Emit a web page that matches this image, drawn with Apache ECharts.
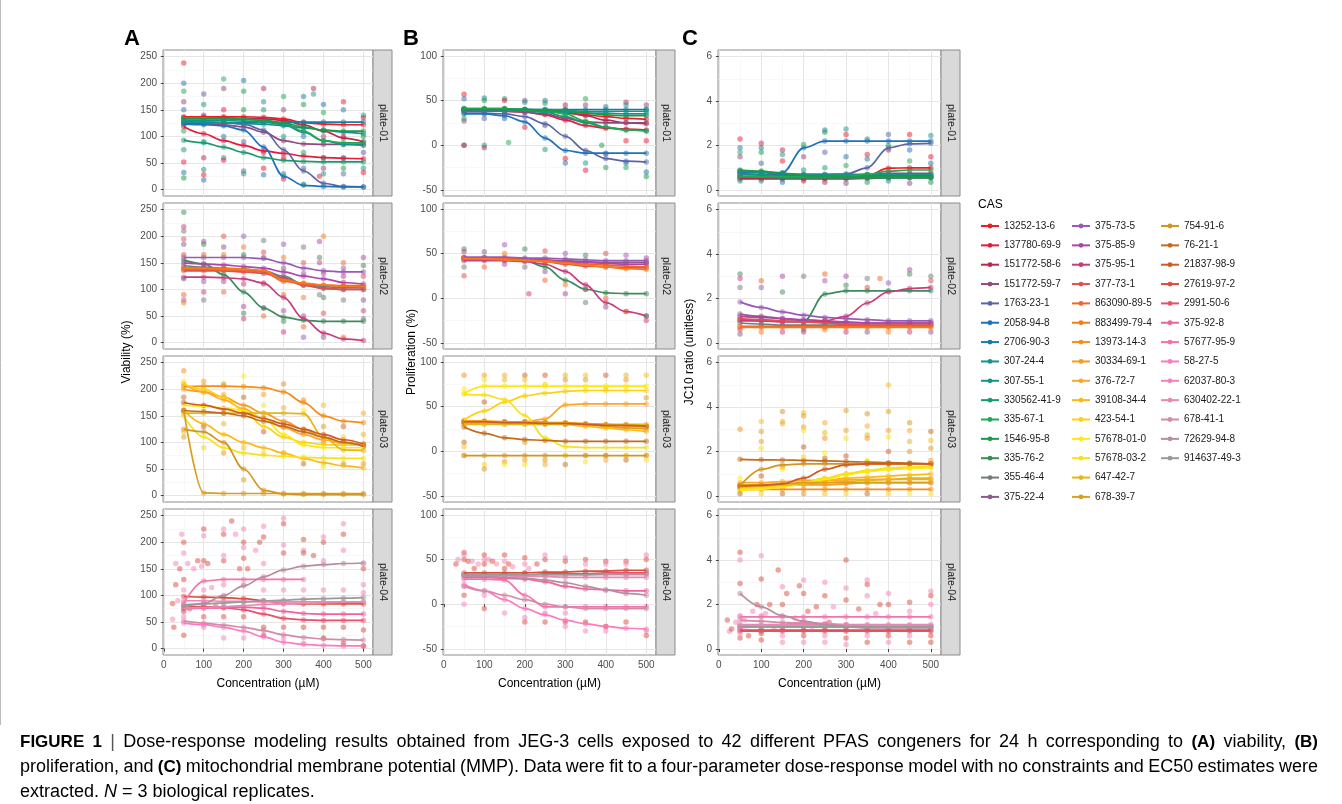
<!DOCTYPE html>
<html>
<head>
<meta charset="utf-8">
<script src="https://cdn.jsdelivr.net/npm/echarts@6/dist/echarts.min.js"></script>
<style>
html, body { margin: 0; padding: 0; background: #fff; }
#main { width: 1342px; height: 804px; }
</style>
</head>
<body>
<div id="main"></div>
<script>
var myChart = echarts.init(document.getElementById('main'));

// concentrations (µM) of the fitted curves
var conc = [50, 100, 150, 200, 250, 300, 350, 400, 450, 500];

// tick labels
var xTicks = [0, 100, 200, 300, 400, 500];
var viabTicks = [0, 50, 100, 150, 200, 250];
var profTicks = [-50, 0, 50, 100];
var jcTicks = [0, 2, 4, 6];

var plateLabels = ['plate-01', 'plate-02', 'plate-03', 'plate-04'];

// compounds on each plate
var plate01 = ['13252-13-6', '137780-69-9', '151772-58-6', '151772-59-7', '1763-23-1', '2058-94-8',
    '2706-90-3', '307-24-4', '307-55-1', '330562-41-9', '335-67-1', '1546-95-8'];
var plate02 = ['335-76-2', '355-46-4', '375-22-4', '375-73-5', '375-85-9', '375-95-1', '377-73-1',
    '863090-89-5', '883499-79-4'];
var plate03 = ['13973-14-3', '30334-69-1', '376-72-7', '39108-34-4', '423-54-1', '57678-01-0',
    '57678-03-2', '647-42-7', '678-39-7', '754-91-6', '76-21-1', '21837-98-9'];
var plate04 = ['27619-97-2', '2991-50-6', '375-92-8', '57677-95-9', '58-27-5', '62037-80-3',
    '630402-22-1', '678-41-1', '72629-94-8', '914637-49-3'];

// legend order and colours
var casNames = ['13252-13-6', '137780-69-9', '151772-58-6', '151772-59-7', '1763-23-1', '2058-94-8',
    '2706-90-3', '307-24-4', '307-55-1', '330562-41-9', '335-67-1', '1546-95-8', '335-76-2', '355-46-4',
    '375-22-4', '375-73-5', '375-85-9', '375-95-1', '377-73-1', '863090-89-5', '883499-79-4',
    '13973-14-3', '30334-69-1', '376-72-7', '39108-34-4', '423-54-1', '57678-01-0', '57678-03-2',
    '647-42-7', '678-39-7', '754-91-6', '76-21-1', '21837-98-9', '27619-97-2', '2991-50-6',
    '375-92-8', '57677-95-9', '58-27-5', '62037-80-3', '630402-22-1', '678-41-1', '72629-94-8',
    '914637-49-3'];
var casColors = ['#ee1c25', '#e8193c', '#b52a4f', '#8e4a7e', '#5a64a8', '#1f72b8',
    '#1b7aa3', '#17918f', '#169585', '#1a9a6c', '#21a853', '#1a9a46', '#3c8b5a', '#737b7b',
    '#8c5a8c', '#9b59b6', '#b044a8', '#c93c7c', '#e0504e', '#f2642c', '#f57b17',
    '#f98c16', '#fb9a1c', '#fda62a', '#fdb913', '#fcd20c', '#fde910', '#f6e11a',
    '#e5b51a', '#d9a020', '#d4951f', '#c46a1b', '#cf5a23', '#d94e3e', '#e85068',
    '#f0629a', '#f573ad', '#fb7ac0', '#f482ba', '#e588b2', '#d48aa8', '#b88c9e',
    '#9a9a9a'];

// fitted curves: viability (%)
var viabP1 = [
    [137, 137, 137, 137, 136, 133, 126, 123, 122, 122],
    [118, 105, 92, 83, 73, 68, 63, 60, 59, 58],
    [135, 135, 135, 134, 133, 130, 122, 110, 97, 90],
    [125, 124, 122, 118, 108, 92, 86, 85, 85, 85],
    [128, 127, 126, 123, 112, 75, 35, 12, 6, 5],
    [123, 122, 120, 112, 80, 25, 8, 6, 5, 5],
    [125, 126, 126, 126, 127, 127, 127, 127, 127, 127],
    [128, 127, 126, 124, 123, 120, 116, 112, 108, 105],
    [130, 130, 130, 129, 127, 122, 108, 92, 85, 83],
    [93, 88, 80, 70, 60, 55, 53, 52, 52, 52],
    [135, 135, 134, 133, 130, 125, 110, 92, 88, 88],
    [133, 133, 133, 132, 130, 125, 118, 112, 110, 110]
];
var viabP2 = [
    [155, 148, 128, 95, 65, 48, 42, 40, 40, 40],
    [145, 142, 140, 138, 135, 125, 110, 105, 104, 104],
    [140, 140, 138, 136, 133, 122, 108, 102, 100, 100],
    [160, 160, 160, 160, 158, 150, 140, 135, 133, 133],
    [150, 148, 146, 143, 140, 133, 125, 120, 113, 110],
    [123, 123, 122, 120, 112, 85, 45, 18, 7, 4],
    [135, 135, 135, 133, 130, 120, 108, 102, 100, 100],
    [138, 138, 137, 136, 134, 115, 110, 108, 107, 107],
    [140, 140, 139, 138, 136, 118, 112, 108, 106, 105]
];
var viabP3 = [
    [205, 206, 206, 205, 203, 195, 175, 150, 140, 137],
    [200, 195, 185, 170, 155, 140, 125, 110, 100, 95],
    [210, 195, 180, 163, 145, 128, 115, 105, 98, 95],
    [160, 135, 115, 100, 90, 80, 70, 62, 56, 52],
    [210, 200, 185, 160, 130, 110, 100, 96, 95, 95],
    [170, 168, 165, 160, 145, 115, 95, 90, 90, 90],
    [150, 110, 90, 80, 76, 74, 72, 71, 70, 70],
    [155, 155, 155, 155, 155, 155, 154, 110, 86, 85],
    [160, 5, 4, 4, 4, 4, 4, 4, 4, 4],
    [125, 120, 100, 50, 10, 3, 2, 2, 2, 2],
    [160, 158, 155, 150, 140, 130, 120, 110, 100, 93],
    [175, 170, 163, 155, 145, 135, 125, 115, 105, 97]
];
var viabP4 = [
    [98, 97, 96, 94, 90, 85, 84, 84, 84, 84],
    [80, 79, 77, 73, 65, 57, 54, 53, 53, 53],
    [75, 76, 77, 78, 76, 70, 66, 65, 65, 65],
    [86, 127, 130, 130, 130, 130, 130, null, null, null],
    [48, 45, 40, 33, 22, 12, 8, 6, 5, 5],
    [90, 90, 89, 89, 88, 88, 88, 88, 88, 88],
    [75, 77, 79, 81, 83, 84, 85, 86, 87, 87],
    [52, 48, 44, 40, 34, 26, 21, 18, 17, 16],
    [78, 85, 100, 118, 135, 148, 155, 158, 160, 161],
    [82, 84, 86, 88, 90, 91, 93, 94, 95, 96]
];

// fitted curves: proliferation (%)
var profP1 = [
    [40, 40, 40, 39, 38, 36, 34, 32, 30, 29],
    [39, 39, 38, 37, 34, 28, 22, 19, 18, 17],
    [40, 40, 40, 40, 39, 37, 33, 28, 25, 24],
    [38, 38, 38, 37, 35, 30, 26, 25, 25, 25],
    [36, 36, 35, 32, 24, 10, -6, -15, -18, -19],
    [35, 35, 33, 26, 8, -6, -9, -9, -9, -9],
    [40, 40, 40, 40, 40, 40, 40, 40, 40, 40],
    [38, 38, 38, 38, 37, 37, 36, 36, 35, 35],
    [41, 41, 41, 40, 40, 39, 38, 38, 38, 38],
    [40, 40, 40, 39, 37, 32, 25, 20, 17, 16],
    [41, 41, 41, 40, 39, 35, 27, 20, 17, 16],
    [40, 40, 40, 40, 39, 38, 36, 34, 33, 33]
];
var profP2 = [
    [45, 45, 44, 42, 35, 20, 10, 6, 5, 5],
    [44, 44, 44, 43, 42, 41, 40, 40, 40, 40],
    [45, 45, 44, 44, 43, 42, 41, 40, 40, 40],
    [46, 46, 46, 45, 45, 44, 43, 42, 42, 42],
    [44, 44, 43, 43, 42, 41, 40, 39, 38, 38],
    [42, 42, 42, 41, 38, 30, 15, -5, -15, -20],
    [45, 45, 44, 43, 41, 38, 36, 35, 34, 34],
    [45, 44, 44, 43, 42, 40, 38, 37, 36, 35],
    [44, 44, 43, 42, 41, 39, 37, 35, 33, 32]
];
var profP3 = [
    [33, 33, 33, 33, 32, 32, 31, 30, 29, 28],
    [34, 34, 33, 33, 32, 31, 30, 29, 28, 27],
    [33, 33, 33, 33, 36, 52, 53, 53, 53, 53],
    [31, 31, 31, 31, 31, 30, 28, 26, 24, 22],
    [35, 45, 55, 62, 65, 67, 68, 68, 68, 68],
    [65, 73, 73, 73, 73, 73, 73, 73, 73, 73],
    [64, 63, 58, 40, 15, 5, 4, 4, 4, 4],
    [30, 30, 30, 30, 30, 30, 30, 30, 30, 30],
    [32, 32, 32, 32, 32, 31, 30, 28, 26, 25],
    [-5, -5, -5, -5, -5, -5, -5, -5, -5, -5],
    [27, 20, 15, 13, 12, 11, 11, 11, 11, 11],
    [33, 33, 32, 32, 31, 31, 30, 29, 29, 28]
];
var profP4 = [
    [35, 35, 35, 35, 36, 36, 37, 37, 38, 38],
    [33, 33, 33, 33, 34, 34, 34, 35, 35, 35],
    [30, 30, 29, 28, 25, 20, 17, 16, 15, 15],
    [28, 28, 27, 10, -3, -3, -3, -3, -3, -3],
    [22, 15, 5, -5, -12, -18, -22, -25, -27, -28],
    [33, 33, 33, 33, 33, 33, 33, 33, 33, 33],
    [32, 32, 32, 31, 31, 30, 30, 30, 30, 30],
    [20, 15, 10, 5, 0, -3, -5, -5, -5, -5],
    [32, 31, 30, 29, 27, 24, 20, 16, 12, 10],
    [33, 33, 33, 33, 33, 33, 33, 34, 34, 34]
];

// fitted curves: JC10 ratio
var jcP1 = [
    [0.55, 0.55, 0.55, 0.55, 0.55, 0.56, 0.65, 0.98, 1.0, 1.0],
    [0.6, 0.6, 0.6, 0.6, 0.6, 0.6, 0.6, 0.6, 0.6, 0.6],
    [0.5, 0.5, 0.5, 0.5, 0.5, 0.5, 0.52, 0.55, 0.55, 0.55],
    [0.7, 0.68, 0.65, 0.65, 0.65, 0.65, 0.7, 0.75, 0.75, 0.75],
    [0.7, 0.7, 0.7, 0.7, 0.7, 0.72, 1.0, 1.9, 2.08, 2.1],
    [0.8, 0.8, 0.78, 1.9, 2.2, 2.2, 2.2, 2.2, 2.2, 2.2],
    [0.85, 0.8, 0.7, 0.65, 0.65, 0.65, 0.65, 0.65, 0.65, 0.65],
    [0.75, 0.7, 0.6, 0.58, 0.58, 0.58, 0.58, 0.58, 0.58, 0.58],
    [0.85, 0.8, 0.75, 0.7, 0.7, 0.7, 0.7, 0.7, 0.7, 0.7],
    [0.6, 0.58, 0.55, 0.55, 0.55, 0.55, 0.55, 0.55, 0.55, 0.55],
    [0.6, 0.6, 0.6, 0.6, 0.6, 0.62, 0.7, 0.85, 0.9, 0.9],
    [0.9, 0.85, 0.75, 0.65, 0.6, 0.6, 0.6, 0.6, 0.6, 0.6]
];
var jcP2 = [
    [1.05, 1.0, 0.98, 0.97, 2.2, 2.35, 2.35, 2.35, 2.35, 2.35],
    [0.9, 0.85, 0.8, 0.8, 0.8, 0.8, 0.8, 0.8, 0.8, 0.8],
    [1.3, 1.2, 1.1, 1.0, 0.95, 0.9, 0.9, 0.9, 0.9, 0.9],
    [1.85, 1.6, 1.4, 1.25, 1.15, 1.1, 1.05, 1.0, 1.0, 1.0],
    [1.2, 1.15, 1.1, 1.05, 1.0, 0.95, 0.9, 0.9, 0.9, 0.9],
    [1.0, 1.0, 0.95, 0.95, 1.0, 1.2, 1.8, 2.3, 2.45, 2.5],
    [1.1, 1.05, 1.0, 0.95, 0.9, 0.85, 0.8, 0.8, 0.8, 0.8],
    [0.75, 0.75, 0.75, 0.75, 0.75, 0.75, 0.75, 0.75, 0.75, 0.75],
    [0.7, 0.7, 0.7, 0.7, 0.7, 0.7, 0.7, 0.7, 0.7, 0.7]
];
var jcP3 = [
    [0.3, 0.3, 0.3, 0.3, 0.3, 0.3, 0.3, 0.3, 0.3, 0.3],
    [0.5, 0.5, 0.5, 0.5, 0.5, 0.55, 0.6, 0.6, 0.6, 0.6],
    [0.6, 0.6, 0.65, 0.7, 0.7, 0.72, 0.75, 0.75, 0.75, 0.75],
    [0.35, 0.4, 0.5, 0.6, 0.7, 0.8, 0.85, 0.9, 0.95, 1.0],
    [0.3, 0.35, 0.45, 0.6, 0.8, 1.0, 1.1, 1.2, 1.25, 1.3],
    [0.25, 0.3, 0.4, 0.55, 0.75, 0.95, 1.1, 1.2, 1.25, 1.28],
    [0.3, 0.35, 0.45, 0.6, 0.8, 1.0, 1.15, 1.25, 1.3, 1.35],
    [0.4, 0.45, 0.5, 0.55, 0.6, 0.65, 0.7, 0.75, 0.8, 0.8],
    [0.5, 0.5, 0.55, 0.6, 0.6, 0.6, 0.6, 0.6, 0.6, 0.6],
    [0.45, 1.2, 1.4, 1.45, 1.45, 1.45, 1.45, 1.45, 1.45, 1.45],
    [1.65, 1.63, 1.62, 1.6, 1.58, 1.55, 1.53, 1.5, 1.48, 1.45],
    [0.45, 0.48, 0.55, 0.8, 1.2, 1.4, 1.45, 1.45, 1.45, 1.45]
];
var jcP4 = [
    [0.85, 0.85, 0.85, 0.85, 0.85, 0.85, 0.85, 0.85, 0.85, 0.85],
    [0.8, 0.8, 0.8, 0.8, 0.8, 0.8, 0.8, 0.8, 0.8, 0.8],
    [1.0, 1.0, 1.0, 1.0, 1.0, 1.0, 1.0, 1.0, 1.0, 1.0],
    [1.45, 1.45, 1.45, 1.45, 1.45, 1.45, 1.45, 1.45, 1.45, 1.45],
    [0.95, 1.0, 1.1, 1.2, 1.15, 1.1, 1.05, 1.0, 1.0, 1.0],
    [1.05, 1.05, 1.05, 1.05, 1.05, 1.05, 1.05, 1.05, 1.05, 1.05],
    [1.1, 1.1, 1.1, 1.1, 1.1, 1.1, 1.1, 1.1, 1.1, 1.1],
    [1.3, 1.25, 1.2, 1.15, 1.1, 1.05, 1.0, 1.0, 1.0, 1.0],
    [2.5, 1.9, 1.5, 1.25, 1.1, 1.0, 0.95, 0.95, 0.95, 0.95],
    [1.0, 1.0, 1.0, 1.0, 1.0, 1.0, 1.0, 1.0, 1.0, 1.0]
];

// scattered replicate observations away from the curves [conc, value]
var obsViab1 = [[50, 238], [50, 200], [50, 185], [50, 165], [50, 75], [50, 52], [50, 32], [50, 22],
    [100, 180], [100, 160], [100, 60], [100, 38], [100, 28], [100, 18], [150, 208], [150, 190], [150, 60],
    [150, 55], [200, 205], [200, 185], [200, 35], [200, 30], [250, 190], [250, 165], [250, 40], [250, 28],
    [300, 175], [300, 150], [300, 30], [300, 20], [350, 175], [350, 160], [350, 40], [350, 10],
    [375, 190], [375, 180], [390, 25], [400, 160], [400, 145], [400, 40], [400, 30], [450, 165],
    [450, 150], [450, 40], [450, 30], [500, 140], [500, 135], [500, 40], [500, 32],
    [50, 150], [50, 110], [100, 140], [100, 90], [150, 150], [150, 100], [200, 150], [200, 90],
    [250, 150], [250, 70], [300, 100], [300, 60], [350, 100], [350, 70], [400, 100], [400, 60],
    [450, 100], [450, 60], [500, 100], [500, 70]];
var obsViab2 = [[50, 245], [50, 218], [50, 210], [50, 195], [50, 185], [50, 90], [50, 80], [50, 75],
    [100, 190], [100, 185], [100, 95], [100, 80], [150, 200], [150, 180], [150, 95], [200, 200],
    [200, 180], [200, 68], [200, 55], [200, 45], [250, 192], [250, 170], [250, 65], [250, 50],
    [300, 185], [300, 160], [300, 60], [300, 40], [300, 20], [350, 180], [350, 150], [350, 50],
    [350, 30], [350, 10], [400, 200], [390, 190], [390, 160], [390, 150], [390, 90], [400, 55],
    [400, 10], [450, 150], [450, 140], [450, 10], [500, 160], [500, 145], [500, 60], [500, 45],
    [50, 165], [50, 120], [100, 165], [100, 115], [150, 165], [150, 115], [200, 165], [200, 110],
    [250, 160], [250, 110], [300, 140], [300, 90], [350, 130], [350, 85], [400, 130], [400, 85],
    [450, 125], [450, 80], [500, 125], [500, 80]];
var obsViab3 = [[50, 235], [50, 215], [50, 185], [50, 120], [50, 110], [100, 215], [100, 200],
    [100, 130], [100, 90], [150, 210], [150, 190], [150, 135], [150, 80], [200, 225], [200, 185],
    [200, 90], [200, 30], [250, 190], [250, 170], [250, 120], [250, 80], [300, 210], [300, 165],
    [300, 80], [350, 180], [350, 160], [350, 60], [400, 170], [400, 130], [400, 100], [400, 55],
    [450, 130], [450, 110], [450, 60], [500, 155], [500, 115], [500, 60]];
var obsViab4 = [[22, 85], [22, 55], [25, 40], [30, 160], [30, 120], [35, 90], [40, 150], [45, 215],
    [50, 200], [50, 180], [50, 130], [50, 60], [50, 25], [60, 160], [65, 75], [75, 150], [85, 165],
    [95, 155], [100, 225], [100, 212], [100, 165], [100, 40], [110, 160], [120, 115], [130, 80],
    [150, 225], [150, 215], [150, 175], [150, 165], [150, 20], [170, 240], [180, 215], [190, 150],
    [200, 225], [200, 200], [200, 190], [200, 170], [200, 20], [210, 150], [230, 185], [240, 200],
    [250, 230], [250, 210], [250, 160], [250, 25], [300, 245], [300, 235], [300, 195], [300, 180],
    [300, 20], [350, 205], [350, 185], [350, 180], [350, 10], [375, 175], [400, 210], [400, 200],
    [400, 165], [400, 20], [450, 235], [450, 215], [450, 185], [450, 10], [500, 160], [500, 150],
    [500, 120], [500, 5], [50, 110], [50, 70], [100, 110], [100, 60], [150, 120], [150, 60],
    [200, 120], [200, 60], [250, 110], [250, 40], [300, 110], [300, 40], [350, 110], [350, 40],
    [400, 110], [400, 40], [450, 110], [450, 40], [500, 105], [500, 35]];

var obsProf1 = [[50, 57], [50, 52], [50, 30], [50, 27], [50, 0], [50, 0], [100, 53], [100, 50],
    [100, 30], [100, 0], [100, -3], [150, 52], [150, 50], [150, 30], [160, 3], [200, 50], [200, 48],
    [200, 20], [250, 50], [250, 47], [250, 22], [250, -5], [300, 45], [300, 40], [300, -15], [300, -20],
    [350, 52], [350, 45], [350, -20], [350, -28], [400, 43], [390, 0], [400, -10], [400, -25],
    [450, 48], [450, 45], [450, 5], [450, -20], [450, -25], [500, 45], [500, 40], [500, 5],
    [500, -30], [500, -35]];
var obsProf2 = [[50, 55], [50, 52], [50, 35], [50, 25], [100, 52], [100, 35], [150, 60], [150, 50],
    [150, 38], [200, 55], [210, 5], [200, 35], [250, 53], [250, 30], [250, 20], [300, 50], [300, 15],
    [300, 5], [350, 48], [350, 10], [350, -5], [400, 50], [400, -10], [400, 0], [450, 48], [450, -15],
    [500, 45], [500, -20], [500, -25]];
var obsProf3 = [[50, 85], [50, 70], [50, 10], [50, 5], [50, -5], [100, 85], [100, 80], [100, 55],
    [100, -15], [100, -20], [150, 85], [150, 80], [150, -12], [150, -15], [200, 85], [200, 80],
    [200, 10], [200, -10], [200, -15], [250, 85], [250, 75], [250, -10], [250, -15], [300, 85],
    [300, 80], [300, -5], [300, -15], [350, 85], [350, 80], [350, -5], [350, -12], [400, 85],
    [400, 70], [400, -5], [400, -10], [450, 85], [450, 80], [450, -5], [450, -10], [500, 85],
    [500, 60], [500, -5], [500, -10]];
var obsProf4 = [[30, 45], [35, 50], [50, 58], [50, 55], [50, 50], [50, 20], [50, 10], [50, 0],
    [60, 48], [70, 48], [75, 40], [85, 45], [100, 55], [100, 50], [100, 45], [100, 10], [100, -5],
    [110, 50], [120, 48], [130, 45], [150, 55], [150, 48], [150, 40], [150, -10], [160, 45],
    [170, 42], [200, 52], [200, 45], [200, 35], [200, -15], [200, -20], [210, 40], [230, 45],
    [250, 55], [250, 50], [250, -10], [250, -20], [300, 52], [300, 48], [300, -10], [300, -20],
    [300, -25], [350, 50], [350, 45], [350, -20], [350, -30], [400, 48], [400, 45], [400, -25],
    [400, -30], [450, 48], [450, 45], [450, -20], [500, 55], [500, 50], [500, -30], [500, -35]];

var obsJc1 = [[50, 2.3], [50, 1.9], [50, 1.7], [50, 1.5], [50, 0.4], [100, 2.1], [100, 1.9],
    [100, 1.7], [100, 1.2], [100, 0.4], [150, 1.8], [150, 1.6], [150, 1.3], [150, 0.35], [200, 2.05],
    [200, 1.5], [200, 0.9], [200, 0.4], [250, 2.7], [250, 2.6], [250, 1.7], [250, 1.0], [250, 0.35],
    [300, 2.75], [300, 2.5], [300, 1.5], [300, 1.1], [300, 0.3], [350, 2.3], [350, 1.6], [350, 1.4],
    [350, 0.35], [400, 2.5], [400, 2.0], [400, 1.8], [400, 0.4], [450, 2.5], [450, 1.8], [450, 1.3],
    [450, 0.3], [500, 2.45], [500, 1.5], [500, 1.2], [500, 0.35]];
var obsJc2 = [[50, 3.1], [50, 2.9], [50, 2.5], [50, 0.6], [50, 0.4], [100, 2.8], [100, 2.5],
    [100, 0.5], [150, 3.0], [150, 2.3], [150, 0.5], [200, 3.0], [200, 0.6], [200, 0.5], [250, 3.1],
    [250, 2.8], [250, 0.6], [300, 3.0], [300, 2.6], [300, 0.5], [350, 2.9], [350, 2.5], [350, 0.5],
    [380, 2.9], [400, 2.7], [400, 0.5], [450, 3.3], [450, 3.1], [450, 0.5], [500, 3.0], [500, 2.8],
    [500, 0.5]];
var obsJc3 = [[50, 3.0], [50, 0.8], [50, 0.1], [100, 3.35], [100, 2.9], [100, 2.45], [100, 2.15],
    [100, 0.9], [100, 0.1], [150, 3.8], [150, 3.35], [150, 3.25], [150, 1.3], [150, 1.2], [150, 0.1],
    [200, 3.75], [200, 3.6], [200, 3.1], [200, 2.95], [200, 2.2], [200, 1.75], [200, 0.1], [250, 3.3],
    [250, 2.85], [250, 2.6], [250, 1.95], [250, 1.7], [250, 0.1], [300, 3.85], [300, 2.95], [300, 2.6],
    [300, 1.8], [300, 0.1], [350, 3.7], [350, 3.15], [350, 2.75], [350, 2.6], [350, 1.6], [350, 0.1],
    [400, 5.0], [400, 3.8], [400, 2.95], [400, 2.65], [400, 2.0], [400, 0.1], [450, 3.3], [450, 2.95],
    [450, 2.45], [450, 2.0], [450, 0.1], [500, 2.9], [500, 2.5], [500, 2.15], [500, 1.6], [500, 0.1]];
var obsJc4 = [[20, 1.3], [25, 0.8], [30, 0.9], [40, 1.2], [50, 4.35], [50, 4.0], [50, 2.95],
    [50, 1.5], [50, 0.5], [60, 1.3], [70, 0.6], [80, 1.7], [90, 2.0], [100, 4.2], [100, 3.15],
    [100, 1.5], [100, 0.4], [110, 1.6], [120, 2.0], [130, 0.9], [140, 3.55], [150, 2.8], [150, 2.0],
    [150, 0.3], [160, 2.5], [180, 1.4], [190, 2.85], [200, 3.1], [200, 2.5], [200, 0.3], [210, 1.7],
    [220, 1.0], [230, 1.9], [250, 3.0], [250, 2.4], [250, 0.3], [260, 1.2], [270, 1.9], [300, 4.0],
    [300, 2.75], [300, 2.2], [300, 0.2], [330, 1.8], [350, 3.1], [350, 2.9], [350, 2.4], [350, 0.3],
    [370, 1.6], [380, 2.0], [400, 2.5], [400, 2.0], [400, 0.3], [450, 2.1], [450, 1.7], [450, 0.3],
    [500, 2.6], [500, 2.4], [500, 2.0], [500, 0.3], [50, 0.7], [100, 0.7], [150, 0.6], [200, 0.6],
    [250, 0.6], [300, 0.5], [350, 0.6], [400, 0.6], [450, 0.6], [500, 0.6]];

// caption, words of each line ('*' bold, '_' italic)
var captionLine1 = ['*FIGURE', '*1', '|', 'Dose-response', 'modeling', 'results', 'obtained', 'from',
    'JEG-3', 'cells', 'exposed', 'to', '42', 'different', 'PFAS', 'congeners', 'for', '24', 'h',
    'corresponding', 'to', '*(A)', 'viability,', '*(B)'];
var captionLine2 = ['proliferation,', 'and', '*(C)', 'mitochondrial', 'membrane', 'potential', '(MMP).',
    'Data', 'were', 'fit', 'to', 'a', 'four-parameter', 'dose-response', 'model', 'with', 'no',
    'constraints', 'and', 'EC50', 'estimates', 'were'];
var captionLine3 = ['extracted.', '_N', '=', '3', 'biological', 'replicates.'];

// layout
var colLeft = [163, 443, 718];
var colWidth = [210, 213, 223];
var rowTop = [50, 203, 356, 509];
var rowH = 146;
var yRanges = [[-12, 262.5], [-57, 106.7], [-0.27, 6.3]];
var ySplit = [5, 3, 3];
var yTickSets = [viabTicks, profTicks, jcTicks];
var yTitles = ['Viability (%)', 'Proliferation (%)', 'JC10 ratio (unitless)'];
var letters = ['A', 'B', 'C'];

var plates = [plate01, plate02, plate03, plate04];
var curves = [
    [viabP1, profP1, jcP1],
    [viabP2, profP2, jcP2],
    [viabP3, profP3, jcP3],
    [viabP4, profP4, jcP4]
];
var obs = [
    [obsViab1, obsProf1, obsJc1],
    [obsViab2, obsProf2, obsJc2],
    [obsViab3, obsProf3, obsJc3],
    [obsViab4, obsProf4, obsJc4]
];

function colorOf(name) {
    return casColors[casNames.indexOf(name)];
}

var grids = [], xAxes = [], yAxes = [], lineSeries = [], dotSeries = [], graphics = [];
var FONT = '"Liberation Sans", Arial, Helvetica, sans-serif';

for (var r = 0; r < 4; r++) {
    for (var c = 0; c < 3; c++) {
        var gi = r * 3 + c;
        grids.push({
            left: colLeft[c], top: rowTop[r], width: colWidth[c], height: rowH,
            show: true, backgroundColor: '#fff', borderColor: '#8c8c8c', borderWidth: 1
        });
        xAxes.push({
            gridIndex: gi, type: 'value', min: -2, max: 524, splitNumber: 5,
            axisLine: { show: false },
            axisTick: { show: r === 3, length: 3, lineStyle: { color: '#444' }, customValues: xTicks },
            axisLabel: { show: r === 3, customValues: xTicks, fontSize: 10, color: '#4d4d4d', margin: 5, fontFamily: FONT },
            splitLine: { show: true, lineStyle: { color: '#e6e6e6', width: 1 } },
            minorTick: { show: false, splitNumber: 2 },
            minorSplitLine: { show: true, lineStyle: { color: '#f3f3f3', width: 0.6 } },
            name: r === 3 ? 'Concentration (\u00b5M)' : '',
            nameLocation: 'middle', nameGap: 23,
            nameTextStyle: { fontSize: 12, color: '#000', fontFamily: FONT }
        });
        yAxes.push({
            gridIndex: gi, type: 'value', min: yRanges[c][0], max: yRanges[c][1], splitNumber: ySplit[c],
            axisLine: { show: false },
            axisTick: { show: true, length: 3, lineStyle: { color: '#444' }, customValues: yTickSets[c] },
            axisLabel: { customValues: yTickSets[c], fontSize: 10, color: '#4d4d4d', margin: 6, fontFamily: FONT },
            splitLine: { show: true, lineStyle: { color: '#e6e6e6', width: 1 } },
            minorTick: { show: false, splitNumber: 2 },
            minorSplitLine: { show: true, lineStyle: { color: '#f3f3f3', width: 0.6 } }
        });

        var names = plates[r];
        var sets = curves[r][c];
        for (var k = 0; k < names.length; k++) {
            var col = colorOf(names[k]);
            var pts = [];
            for (var j = 0; j < conc.length; j++) {
                if (sets[k][j] !== null) pts.push([conc[j], sets[k][j]]);
            }
            lineSeries.push({
                name: names[k], type: 'line', xAxisIndex: gi, yAxisIndex: gi,
                data: pts, smooth: 0.35, smoothMonotone: 'x',
                symbol: 'circle', showSymbol: false, z: 4,
                lineStyle: { width: 1.7, color: col }, itemStyle: { color: col },
                emphasis: { disabled: true }
            });
            dotSeries.push({
                name: names[k], type: 'scatter', xAxisIndex: gi, yAxisIndex: gi,
                data: pts, symbolSize: 5.5, z: 2,
                itemStyle: { color: col, opacity: 0.5 }, emphasis: { disabled: true }
            });
        }
        // spread of replicate points
        var extra = obs[r][c].map(function (p, idx) {
            return { value: p, itemStyle: { color: colorOf(names[(idx * 5) % names.length]) } };
        });
        dotSeries.push({
            name: 'obs', type: 'scatter', xAxisIndex: gi, yAxisIndex: gi,
            data: extra, symbolSize: 5.5, z: 2,
            itemStyle: { opacity: 0.5 }, emphasis: { disabled: true }
        });

        // facet strip on the right of the panel
        graphics.push({
            type: 'rect', silent: true,
            shape: { x: colLeft[c] + colWidth[c], y: rowTop[r], width: 19, height: rowH },
            style: { fill: '#d9d9d9', stroke: '#8c8c8c', lineWidth: 1 }
        });
        graphics.push({
            type: 'text', silent: true,
            x: colLeft[c] + colWidth[c] + 9.5, y: rowTop[r] + rowH / 2, rotation: -Math.PI / 2,
            style: { text: plateLabels[r], fontSize: 10.5, fill: '#1a1a1a', align: 'center', verticalAlign: 'middle', fontFamily: FONT }
        });
    }
}

for (var c2 = 0; c2 < 3; c2++) {
    graphics.push({
        type: 'text', silent: true,
        x: [127, 412, 690][c2], y: 352, rotation: Math.PI / 2,
        style: { text: yTitles[c2], fontSize: 12, fill: '#000', align: 'center', verticalAlign: 'middle', fontFamily: FONT }
    });
    graphics.push({
        type: 'text', silent: true,
        x: [132, 411, 690][c2], y: 39,
        style: { text: letters[c2], fontSize: 22, fontWeight: 'bold', fill: '#000', align: 'center', verticalAlign: 'middle', fontFamily: FONT }
    });
}

// legend title
graphics.push({
    type: 'text', silent: true, x: 978, y: 205,
    style: { text: 'CAS', fontSize: 12, fill: '#000', align: 'left', verticalAlign: 'middle', fontFamily: FONT }
});

// frame line
graphics.push({
    type: 'line', silent: true,
    shape: { x1: 0.5, y1: 0, x2: 0.5, y2: 725 },
    style: { stroke: '#bbbbbb', lineWidth: 1 }
});

// justified caption
var capSize = 18, capBold = 17;
var measureCtx = document.createElement('canvas').getContext('2d');
function capFont(w) {
    if (w.charAt(0) === '*') return 'bold ' + capBold + 'px ' + FONT;
    if (w.charAt(0) === '_') return 'italic ' + capSize + 'px ' + FONT;
    return capSize + 'px ' + FONT;
}
function capWord(w) {
    return (w.charAt(0) === '*' || w.charAt(0) === '_') ? w.slice(1) : w;
}
function addCaptionLine(words, y, justify) {
    var widths = words.map(function (w) {
        measureCtx.font = capFont(w);
        return measureCtx.measureText(capWord(w)).width;
    });
    measureCtx.font = capSize + 'px ' + FONT;
    var gap = measureCtx.measureText(' ').width;
    if (justify) {
        var total = widths.reduce(function (a, b) { return a + b; }, 0);
        gap = (1298 - total) / (words.length - 1);
    }
    var x = 20;
    words.forEach(function (w, i) {
        var bold = w.charAt(0) === '*', ital = w.charAt(0) === '_';
        graphics.push({
            type: 'text', silent: true, x: x, y: y,
            style: {
                text: capWord(w), fontSize: bold ? capBold : capSize, fontFamily: FONT,
                fontWeight: bold ? 'bold' : 'normal', fontStyle: ital ? 'italic' : 'normal',
                fill: w === '|' ? '#555' : '#000',
                align: 'left', verticalAlign: 'middle'
            }
        });
        x += widths[i] + gap;
    });
}
addCaptionLine(captionLine1, 742, true);
addCaptionLine(captionLine2, 767, true);
addCaptionLine(captionLine3, 792, false);

var legendCols = [casNames.slice(0, 15), casNames.slice(15, 30), casNames.slice(30)];
var legends = legendCols.map(function (d, i) {
    return {
        orient: 'vertical', left: [975, 1066, 1155][i], top: 215,
        itemWidth: 18, itemHeight: 6, itemGap: 7.35,
        selectedMode: false,
        textStyle: { fontSize: 10, color: '#1a1a1a', lineHeight: 12, fontFamily: FONT },
        data: d
    };
});

var option = {
    animation: false,
    backgroundColor: '#fff',
    textStyle: { fontFamily: FONT },
    grid: grids,
    xAxis: xAxes,
    yAxis: yAxes,
    legend: legends,
    graphic: graphics,
    series: lineSeries.concat(dotSeries)
};
myChart.setOption(option);
</script>
</body>
</html>
